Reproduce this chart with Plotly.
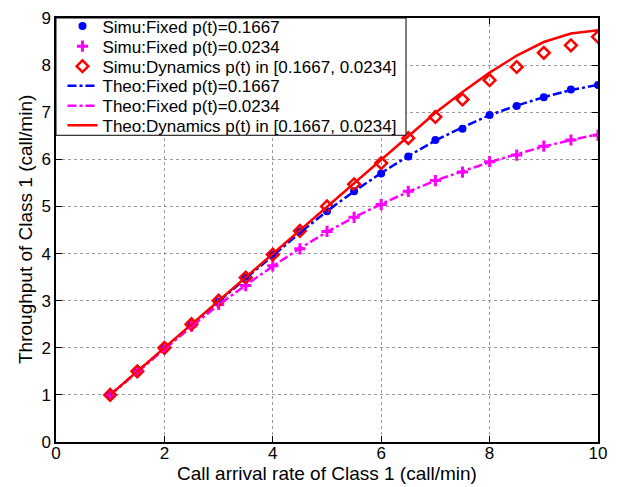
import plotly.graph_objects as go

x_vals = [1, 1.5, 2, 2.5, 3, 3.5, 4, 4.5, 5, 5.5, 6, 6.5, 7, 7.5, 8, 8.5, 9, 9.5, 10]

simu_fixed_hi = [1.0, 1.5, 2.0, 2.5, 2.98, 3.48, 3.97, 4.47, 4.90, 5.32, 5.70, 6.06, 6.41, 6.65, 6.94, 7.13, 7.32, 7.48, 7.58]
simu_fixed_lo = [1.0, 1.49, 1.98, 2.46, 2.92, 3.32, 3.74, 4.10, 4.47, 4.77, 5.04, 5.32, 5.55, 5.73, 5.95, 6.09, 6.28, 6.41, 6.51]
simu_dyn = [1.0, 1.5, 2.0, 2.5, 3.0, 3.49, 3.98, 4.48, 5.0, 5.47, 5.92, 6.45, 6.90, 7.27, 7.68, 7.96, 8.26, 8.42, 8.60]

theo_fixed_hi = [1.0, 1.5, 2.0, 2.49, 2.98, 3.47, 3.96, 4.44, 4.90, 5.32, 5.71, 6.07, 6.40, 6.68, 6.94, 7.14, 7.32, 7.47, 7.58]
theo_fixed_lo = [1.0, 1.49, 1.97, 2.45, 2.91, 3.33, 3.73, 4.11, 4.46, 4.77, 5.05, 5.31, 5.55, 5.75, 5.94, 6.11, 6.27, 6.41, 6.53]
theo_dyn = [1.0, 1.5, 2.0, 2.5, 3.0, 3.5, 4.0, 4.5, 5.0, 5.5, 5.98, 6.48, 6.99, 7.43, 7.84, 8.20, 8.49, 8.67, 8.74]

x_ticks = [0, 2, 4, 6, 8, 10]
y_ticks = [0, 1, 2, 3, 4, 5, 6, 7, 8, 9]

BLUE = "#0000ff"
MAG = "#ff00ff"
RED = "#ff0000"
FONT = "Liberation Sans, Arial, sans-serif"

fig = go.Figure()
fig.add_trace(go.Scatter(x=x_vals, y=simu_fixed_hi, mode="markers", name="Simu:Fixed p(t)=0.1667",
                         legend="legend",
                         marker=dict(color=BLUE, size=8, symbol="circle")))
fig.add_trace(go.Scatter(x=x_vals, y=simu_fixed_lo, mode="markers", name="Simu:Fixed p(t)=0.0234",
                         legend="legend2",
                         marker=dict(color=MAG, size=8, symbol="cross-thin", line=dict(color=MAG, width=3))))
fig.add_trace(go.Scatter(x=x_vals, y=simu_dyn, mode="markers", name="Simu:Dynamics p(t) in [0.1667, 0.0234]",
                         legend="legend3",
                         marker=dict(color=RED, size=9, symbol="diamond-open", line=dict(color=RED, width=2.5))))
fig.add_trace(go.Scatter(x=x_vals, y=theo_fixed_hi, mode="lines", name="Theo:Fixed p(t)=0.1667",
                         legend="legend4",
                         line=dict(color=BLUE, width=2.5, dash="dashdot")))
fig.add_trace(go.Scatter(x=x_vals, y=theo_fixed_lo, mode="lines", name="Theo:Fixed p(t)=0.0234",
                         legend="legend5",
                         line=dict(color=MAG, width=2.5, dash="dashdot")))
fig.add_trace(go.Scatter(x=x_vals, y=theo_dyn, mode="lines", name="Theo:Dynamics p(t) in [0.1667, 0.0234]",
                         legend="legend6",
                         line=dict(color=RED, width=2.5)))

axis_common = dict(
    showline=True, linecolor="black", linewidth=1.5, mirror="ticks",
    ticks="inside", ticklen=6, tickcolor="black", tickwidth=1,
    showgrid=True, gridcolor="#9a9a9a", griddash="dot", gridwidth=1,
    zeroline=False, automargin=False, ticklabeloverflow="allow",
    tickfont=dict(family=FONT, size=17, color="black"),
    title_font=dict(family=FONT, size=19, color="black"),
)

row_y = [0.980, 0.9326, 0.8853, 0.8392, 0.792, 0.7459]
legend_style = dict(x=0.012, xanchor="left", yanchor="middle",
                    bgcolor="rgba(0,0,0,0)", borderwidth=0,
                    font=dict(family=FONT, size=17, color="black"))
legends = {}
for i, yv in enumerate(row_y):
    key = "legend" if i == 0 else f"legend{i + 1}"
    legends[key] = dict(y=yv, **legend_style)

fig.update_layout(
    width=615, height=479,
    margin=dict(l=48, r=25, t=10, b=45, autoexpand=False),
    paper_bgcolor="white", plot_bgcolor="white",
    showlegend=True,
    xaxis=dict(range=[0, 10], tickvals=x_ticks, ticklabelstandoff=-5,
               title=dict(text="Call arrival rate of Class 1 (call/min)", standoff=0), **axis_common),
    yaxis=dict(range=[0, 9], tickvals=y_ticks, ticklabelstandoff=0, **axis_common),
    shapes=[dict(type="rect", xref="paper", yref="paper", x0=0, x1=0.6458, y0=0.7234, y1=1,
                 line=dict(color="black", width=1), fillcolor="white", layer="above")],
    annotations=[dict(text="Throughput of Class 1 (call/min)", xref="paper", yref="paper",
                      x=0, y=0.5, xanchor="center", yanchor="middle", xshift=-31, textangle=-90,
                      showarrow=False, font=dict(family=FONT, size=19, color="black"))],
    **legends,
)

fig.write_html("out.html")
